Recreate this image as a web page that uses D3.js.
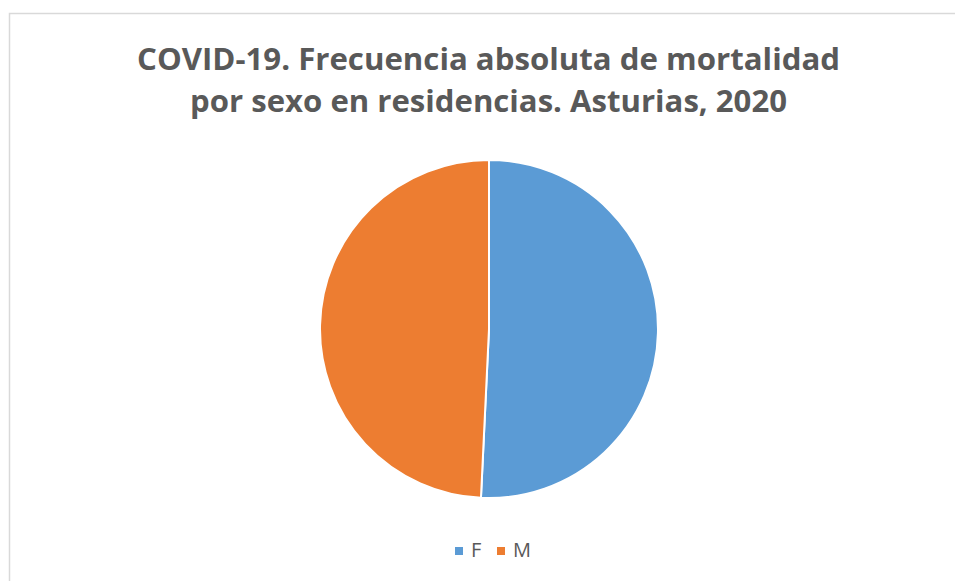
<!DOCTYPE html>
<html>
<head>
<meta charset="utf-8">
<script src="https://cdn.jsdelivr.net/npm/d3@7"></script>
<style>
  body { margin: 0; background: #fff; }
  svg { display: block; }
</style>
</head>
<body>
<div id="chart"></div>
<script>
var categories = ["F", "M"];
var values = [134, 130];
var colors = ["#5b9bd5", "#ed7d31"];
var titleLines = ["COVID-19. Frecuencia absoluta de mortalidad", "por sexo en residencias. Asturias, 2020"];

var width = 955, height = 581;
var cx = 489, cy = 329, radius = 169;

var svg = d3.select("#chart").append("svg")
  .attr("width", width)
  .attr("height", height);

// chart frame (right and bottom edges fall outside the picture)
svg.append("rect")
  .attr("x", 9.5)
  .attr("y", 13.5)
  .attr("width", 960)
  .attr("height", 600)
  .attr("fill", "#fff")
  .attr("stroke", "#d9d9d9")
  .attr("stroke-width", 1.5);

var title = svg.append("g");
var titleWidths = [703, 597];
var titleY = [70, 112];
titleLines.forEach(function(t, i) {
  title.append("text")
    .attr("x", 488.5)
    .attr("y", titleY[i])
    .attr("text-anchor", "middle")
    .attr("font-family", "'Open Sans', sans-serif")
    .attr("font-weight", "bold")
    .attr("font-size", 29.5)
    .attr("fill", "#595959")
    .attr("textLength", titleWidths[i])
    .attr("lengthAdjust", "spacingAndGlyphs")
    .text(t);
});

var pie = d3.pie().sort(null).value(function(d) { return d; });
var arc = d3.arc().innerRadius(0).outerRadius(radius);

var color = d3.scaleOrdinal().domain(categories).range(colors);

var g = svg.append("g")
  .attr("transform", "translate(" + cx + "," + cy + ")");

g.selectAll("path")
  .data(pie(values))
  .enter()
  .append("path")
  .attr("d", arc)
  .attr("fill", function(d, i) { return color(categories[i]); })
  .attr("stroke", "#fff")
  .attr("stroke-width", 2);

// legend
var legendX = [455, 497];
var legend = svg.selectAll(".legend")
  .data(categories)
  .enter()
  .append("g")
  .attr("class", "legend")
  .attr("transform", function(d, i) { return "translate(" + legendX[i] + ",547)"; });

legend.append("rect")
  .attr("width", 8)
  .attr("height", 8)
  .attr("fill", function(d) { return color(d); });

legend.append("text")
  .attr("x", 16)
  .attr("y", 10)
  .attr("font-family", "'Open Sans', sans-serif")
  .attr("font-size", 20)
  .attr("fill", "#595959")
  .text(function(d) { return d; });
</script>
</body>
</html>
